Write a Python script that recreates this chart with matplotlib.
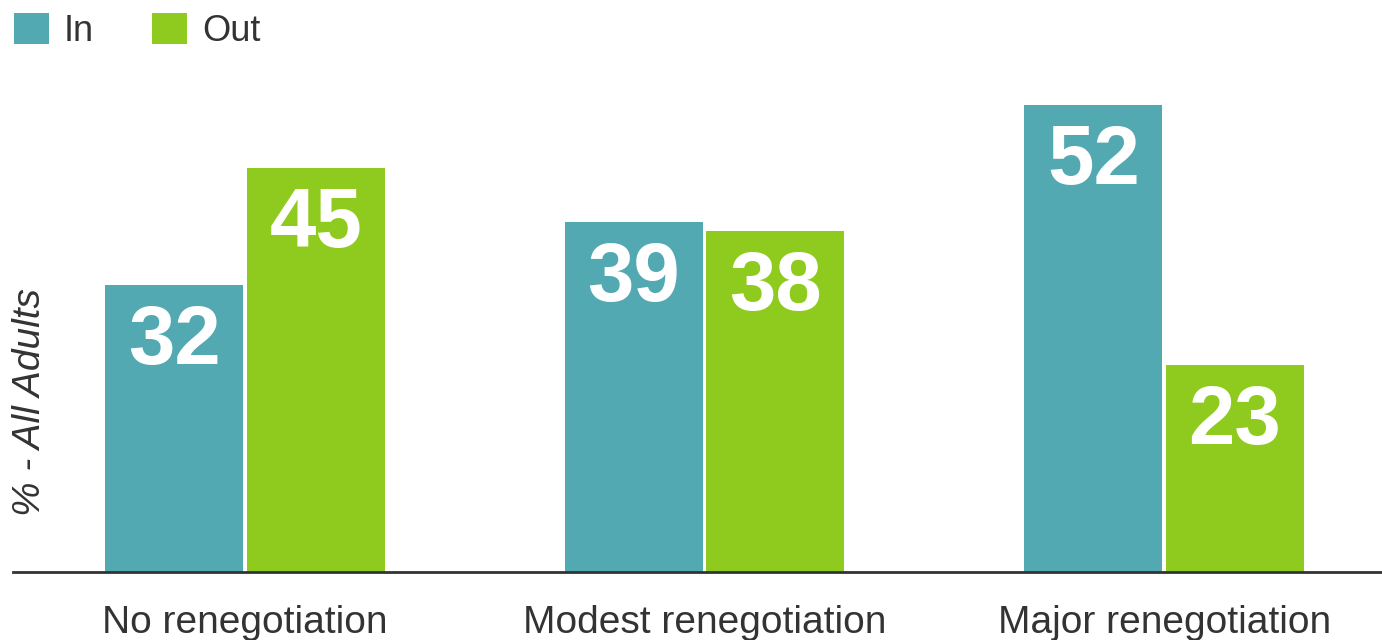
import matplotlib.pyplot as plt
from matplotlib.patches import Patch
import numpy as np

plt.rcParams['font.family'] = ['Liberation Sans', 'DejaVu Sans']

# 数据
categories = ['No renegotiation', 'Modest renegotiation', 'Major renegotiation']
series_names = ['In', 'Out']
in_values = [32, 39, 52]
out_values = [45, 38, 23]

colors = {'In': '#52a9b1', 'Out': '#8fcb1e'}

fig = plt.figure(figsize=(13.82, 6.4), dpi=100)
ax = fig.add_axes([13 / 1382, 68 / 640, 1 - 13 / 1382, 1 - 68 / 640 - 33 / 640])

x = np.arange(len(categories))
width = 0.300
offset = 0.154

bars_in = ax.bar(x - offset, in_values, width, color=colors['In'], label='In')
bars_out = ax.bar(x + offset, out_values, width, color=colors['Out'], label='Out')

# 柱内数值标签
for bars, vals in [(bars_in, in_values), (bars_out, out_values)]:
    for b, v in zip(bars, vals):
        ax.text(b.get_x() + b.get_width() / 2, v - 8.8, str(v),
                ha='center', va='baseline', color='white',
                fontsize=60, fontweight='bold')

ax.set_xlim(-0.505, 2.474)
ax.set_ylim(0, 60)

for side in ['top', 'right', 'left']:
    ax.spines[side].set_visible(False)
ax.spines['bottom'].set_color('#333333')
ax.spines['bottom'].set_linewidth(2)

ax.set_yticks([])
ax.set_xticks(x)
ax.set_xticklabels(categories, fontsize=28, color='#333333')
ax.tick_params(axis='x', length=0, pad=24)

fig.text(30 / 1382, 1 - 402 / 640, '% - All Adults', rotation=90,
         ha='center', va='center', fontsize=28, style='italic', color='#333333')

handles = [Patch(facecolor=colors[n], edgecolor='none') for n in series_names]
fig.legend(handles, series_names, loc='upper left', bbox_to_anchor=(0.002, 0.997),
           ncol=2, frameon=False, fontsize=26, handlelength=0.97, handleheight=0.97,
           handletextpad=0.42, columnspacing=1.6, borderpad=0.3, borderaxespad=0.0,
           labelcolor='#333333')

fig.savefig('out.png', dpi=100)
